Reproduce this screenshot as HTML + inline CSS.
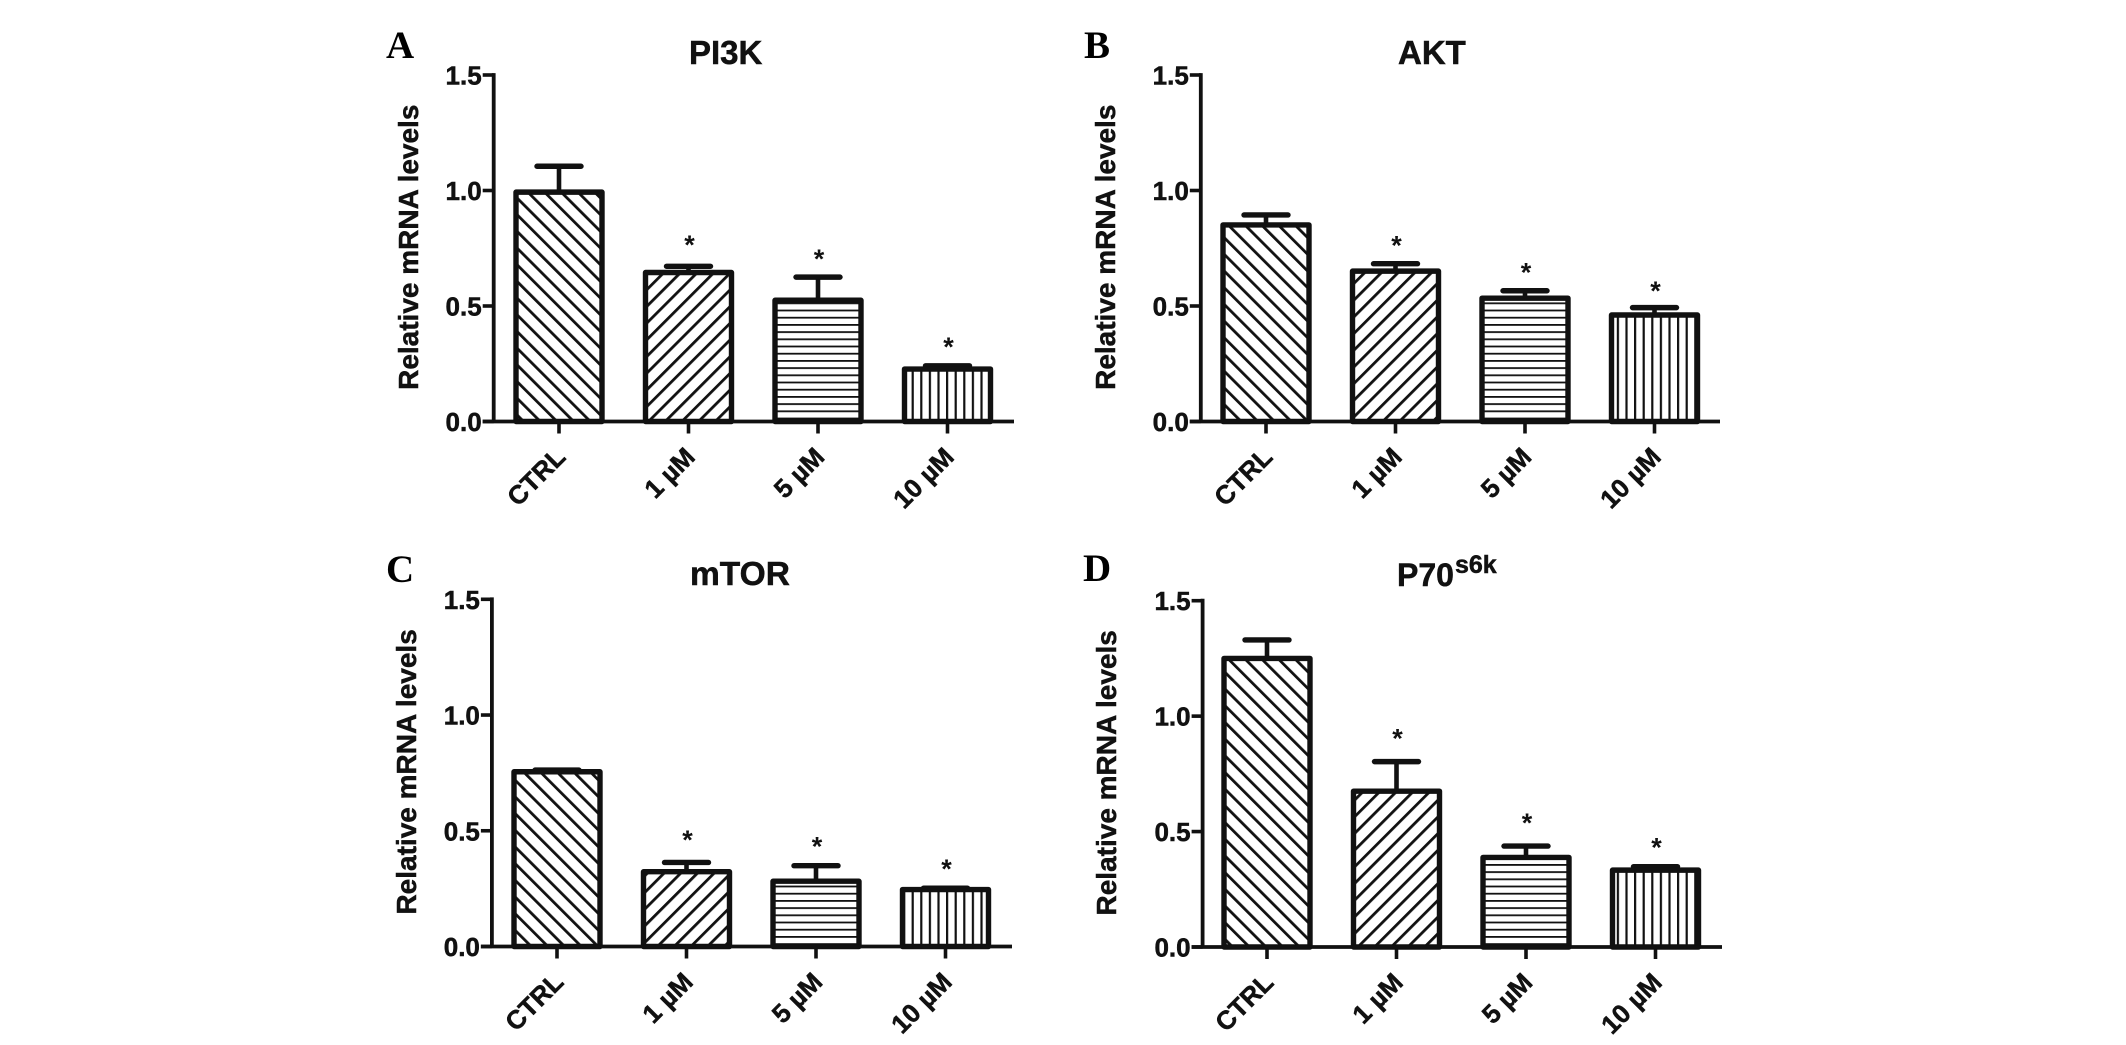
<!DOCTYPE html>
<html lang="en">
<head>
<meta charset="utf-8">
<title>Relative mRNA levels</title>
<style>
html,body{margin:0;padding:0;background:#fff;width:2126px;height:1045px;overflow:hidden}
svg{display:block;filter:blur(0.35px)}
text{font-family:"Liberation Sans",sans-serif;font-weight:700;fill:#111;stroke:#111;stroke-width:0.5px}
.letter{font-family:"Liberation Serif",serif;font-size:39px;fill:#000;stroke:none}
.star{stroke:none}
</style>
</head>
<body>
<svg id="chart" xmlns="http://www.w3.org/2000/svg" width="2126" height="1045" viewBox="0 0 2126 1045">
<defs>
<pattern id="hatch-back" patternUnits="userSpaceOnUse" width="11.8" height="11.8" patternTransform="rotate(-45)"><rect width="11.8" height="11.8" fill="#fff"/><rect x="0" y="0" width="2.8" height="11.8" fill="#111"/></pattern>
<pattern id="hatch-forward" patternUnits="userSpaceOnUse" width="11.8" height="11.8" patternTransform="rotate(45)"><rect width="11.8" height="11.8" fill="#fff"/><rect x="0" y="0" width="2.8" height="11.8" fill="#111"/></pattern>
<pattern id="hatch-horizontal" patternUnits="userSpaceOnUse" width="7.2" height="7.2"><rect width="7.2" height="7.2" fill="#fff"/><rect x="0" y="0" width="7.2" height="1.8" fill="#111"/></pattern>
<pattern id="hatch-vertical" patternUnits="userSpaceOnUse" width="8.6" height="8.6"><rect width="8.6" height="8.6" fill="#fff"/><rect x="0" y="0" width="2.2" height="8.6" fill="#111"/></pattern>
</defs>
</svg>
<script>
const categories = ['CTRL', '1 µM', '5 µM', '10 µM'];
const yTicks = [0, 0.5, 1, 1.5];
const yTickLabels = ['0.0', '0.5', '1.0', '1.5'];
const yAxisTitle = 'Relative mRNA levels';

const pi3kValues = [0.993, 0.645, 0.525, 0.227];
const pi3kErrorTops = [1.105, 0.672, 0.625, 0.241];
const pi3kStarLevels = [null, 0.776, 0.716, 0.336];

const aktValues = [0.851, 0.651, 0.534, 0.461];
const aktErrorTops = [0.894, 0.683, 0.566, 0.493];
const aktStarLevels = [null, 0.774, 0.658, 0.578];

const mtorValues = [0.755, 0.323, 0.282, 0.246];
const mtorErrorTops = [0.762, 0.363, 0.349, 0.252];
const mtorStarLevels = [null, 0.474, 0.445, 0.347];

const p70Values = [1.25, 0.675, 0.388, 0.333];
const p70ErrorTops = [1.33, 0.803, 0.437, 0.348];
const p70StarLevels = [null, 0.917, 0.55, 0.445];

const svg = document.getElementById('chart');
const NS = 'http://www.w3.org/2000/svg';
const hatches = ['hatch-back', 'hatch-forward', 'hatch-horizontal', 'hatch-vertical'];
const INK = '#111';

function make(tag, props, parent) {
  const el = document.createElementNS(NS, tag);
  for (const k in props) el.setAttribute(k, props[k]);
  parent.appendChild(el);
  return el;
}

function drawPanel(p) {
  const g = make('g', {}, svg);
  
  

  const yScale = v => p.y0 + (p.y15 - p.y0) * v / 1.5;
  const xScale = i => p.x0 + p.step * i;

  const letter = make('text', {x: p.letterX, y: p.letterY, class: 'letter'}, g);
  letter.textContent = p.letter;
  
  

  const title = make('text', {x: p.titleX, y: p.titleY, 'font-size': p.titleSize}, g);
  
  
  title.textContent = p.title;
  if (p.titleSup) {
    const sup = make('tspan', {dx: 1, dy: -13, 'font-size': 25}, title);
    sup.textContent = p.titleSup;
  }

  const yt = make('text', {
    'font-size': 28, 'text-anchor': 'middle',
    transform: 'translate(' + p.yTitleX + ',' + ((p.y0 + p.y15) / 2 + p.yTitleDy) + ') rotate(-90)'
  }, g);
  yt.textContent = yAxisTitle;
  
  

  categories.forEach((c, i) => {
    const cx = xScale(i);
    const top = yScale(p.values[i]);
    const capY = yScale(p.errors[i]);

    const stem = make('line', {x1: cx, x2: cx, y1: top, y2: capY, stroke: INK, 'stroke-width': 4.6}, g);
    
    

    const cap = make('line', {x1: cx - 22, x2: cx + 22, y1: capY, y2: capY, stroke: INK, 'stroke-width': 5.4, 'stroke-linecap': 'round'}, g);
    
    

    const bar = make('rect', {
      x: cx - 43, y: top, width: 86, height: p.y0 - top,
      fill: 'url(#' + hatches[i] + ')', stroke: INK, 'stroke-width': 5.4, 'stroke-linejoin': 'round'
    }, g);
    
    

    if (p.stars[i] !== null) {
      const star = make('text', {x: cx + 1, y: yScale(p.stars[i]) + 12, 'font-size': 27, 'text-anchor': 'middle', class: 'star'}, g);
      star.textContent = '*';
      
      
    }

    const tick = make('line', {x1: cx, x2: cx, y1: p.y0, y2: p.y0 + 12, stroke: INK, 'stroke-width': 3.6}, g);
    
    

    const lx = cx + 8;
    const ly = p.y0 + 37;
    const lab = make('text', {'font-size': 26, 'text-anchor': 'end', transform: 'translate(' + lx + ',' + ly + ') rotate(-45)'}, g);
    lab.textContent = c;
    
    
  });

  const xAxis = make('line', {x1: p.axisX - 11, x2: p.xEnd, y1: p.y0, y2: p.y0, stroke: INK, 'stroke-width': 3.8}, g);
  
  

  const yAxis = make('line', {x1: p.axisX, x2: p.axisX, y1: p.y15 - 1.9, y2: p.y0, stroke: INK, 'stroke-width': 3.8}, g);
  
  

  yTicks.forEach((t, i) => {
    const y = yScale(t);
    const tick = make('line', {x1: p.axisX - 11, x2: p.axisX, y1: y, y2: y, stroke: INK, 'stroke-width': 3.6}, g);
    
    
    const lab = make('text', {x: p.axisX - 12, y: y + 9.5, 'font-size': 26, 'text-anchor': 'end'}, g);
    lab.textContent = yTickLabels[i];
    
    
  });
}

drawPanel({key: 'pi3k', letter: 'A', letterX: 386, letterY: 58, title: 'PI3K', titleX: 689, titleY: 64, titleSize: 33,
  axisX: 493.7, xEnd: 1014, x0: 559, step: 129.5, y0: 421.5, y15: 75, yTitleX: 418, yTitleDy: -1,
  values: pi3kValues, errors: pi3kErrorTops, stars: pi3kStarLevels});

drawPanel({key: 'akt', letter: 'B', letterX: 1084, letterY: 58, title: 'AKT', titleX: 1398, titleY: 64, titleSize: 33,
  axisX: 1200.8, xEnd: 1720, x0: 1266, step: 129.5, y0: 421.5, y15: 75, yTitleX: 1115, yTitleDy: -1,
  values: aktValues, errors: aktErrorTops, stars: aktStarLevels});

drawPanel({key: 'mtor', letter: 'C', letterX: 386, letterY: 582, title: 'mTOR', titleX: 690, titleY: 585, titleSize: 33.5,
  axisX: 491.9, xEnd: 1012, x0: 557, step: 129.5, y0: 946.5, y15: 599.3, yTitleX: 416, yTitleDy: -1,
  values: mtorValues, errors: mtorErrorTops, stars: mtorStarLevels});

drawPanel({key: 'p70s6k', letter: 'D', letterX: 1083, letterY: 581, title: 'P70', titleSup: 's6k', titleX: 1397, titleY: 586, titleSize: 32,
  axisX: 1202.6, xEnd: 1722, x0: 1267, step: 129.5, y0: 947, y15: 600.7, yTitleX: 1116, yTitleDy: -1,
  values: p70Values, errors: p70ErrorTops, stars: p70StarLevels});
</script>
</body>
</html>
